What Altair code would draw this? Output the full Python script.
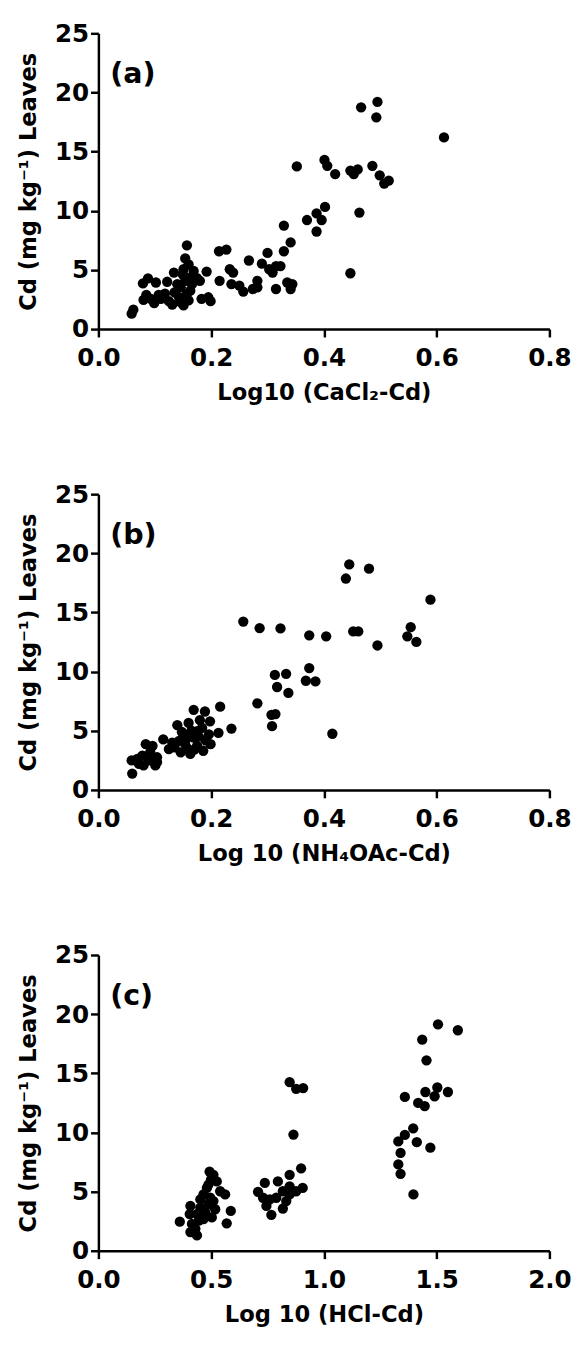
import altair as alt
import pandas as pd

# Panel (a): Log10 (CaCl2-Cd) vs Cd in leaves
xa = [0.059, 0.062, 0.079, 0.088, 0.102, 0.122, 0.134, 0.140, 0.080, 0.093, 0.099, 0.111,
      0.125, 0.131, 0.143, 0.151, 0.160, 0.157, 0.163, 0.157, 0.154, 0.160, 0.151, 0.169,
      0.163, 0.175, 0.154, 0.146, 0.166, 0.180, 0.192, 0.183, 0.199, 0.195, 0.214, 0.227,
      0.215, 0.233, 0.239, 0.236, 0.250, 0.257, 0.267, 0.274, 0.282, 0.282, 0.290, 0.300,
      0.303, 0.309, 0.315, 0.323, 0.315, 0.329, 0.329, 0.341, 0.335, 0.344, 0.341, 0.370,
      0.387, 0.387, 0.396, 0.402, 0.352, 0.401, 0.406, 0.420, 0.447, 0.453, 0.460, 0.466,
      0.495, 0.493, 0.486, 0.499, 0.507, 0.515, 0.613, 0.463, 0.447, 0.107, 0.118, 0.145,
      0.085, 0.135, 0.150]
ya = [1.30, 1.64, 3.86, 4.28, 3.94, 4.00, 4.78, 3.80, 2.47, 2.56, 2.19, 2.56,
      2.36, 2.08, 2.69, 2.00, 2.42, 2.97, 3.25, 7.08, 5.97, 5.47, 5.06, 4.92,
      4.36, 4.30, 4.08, 3.53, 3.80, 4.08, 4.86, 2.56, 2.36, 2.69, 6.58, 6.72,
      4.08, 5.06, 4.78, 3.80, 3.67, 3.17, 5.80, 3.39, 4.08, 3.53, 5.53, 6.44,
      5.06, 4.78, 5.33, 5.33, 3.39, 6.58, 8.75, 7.33, 3.94, 3.80, 3.39, 9.22,
      9.78, 8.25, 9.22, 10.33, 13.75, 14.30, 13.80, 13.10, 13.40, 13.10, 13.50, 18.75,
      19.20, 17.90, 13.80, 13.00, 12.30, 12.55, 16.20, 9.85, 4.72, 2.90, 3.00, 2.30,
      2.90, 3.10, 4.60]

# Panel (b): Log 10 (NH4OAc-Cd)
xb = [0.060, 0.059, 0.069, 0.078, 0.084, 0.096, 0.080, 0.090, 0.101, 0.104, 0.104, 0.115,
      0.125, 0.131, 0.140, 0.143, 0.146, 0.151, 0.154, 0.160, 0.163, 0.169, 0.169, 0.175,
      0.175, 0.184, 0.189, 0.186, 0.196, 0.198, 0.199, 0.213, 0.216, 0.236, 0.257, 0.286,
      0.323, 0.282, 0.307, 0.314, 0.308, 0.313, 0.333, 0.317, 0.337, 0.374, 0.404, 0.374,
      0.368, 0.385, 0.415, 0.445, 0.439, 0.480, 0.452, 0.461, 0.495, 0.589, 0.554, 0.548,
      0.564, 0.155, 0.165, 0.178, 0.158, 0.170, 0.135, 0.092, 0.072, 0.148, 0.190, 0.180]
yb = [1.38, 2.49, 2.62, 2.90, 3.87, 3.73, 2.07, 2.49, 2.07, 2.76, 2.35, 4.28,
      3.45, 4.00, 5.47, 4.14, 3.18, 4.70, 3.87, 5.66, 3.04, 6.77, 4.42, 4.97,
      3.73, 5.25, 6.63, 3.31, 4.70, 5.80, 3.87, 4.83, 7.04, 5.19, 14.23, 13.67,
      13.65, 7.32, 6.35, 6.41, 5.39, 9.72, 9.81, 8.70, 8.20, 13.07, 12.98, 10.30,
      9.23, 9.17, 4.75, 19.06, 17.87, 18.70, 13.40, 13.40, 12.21, 16.08, 13.76, 12.98,
      12.51, 4.30, 5.00, 4.50, 3.50, 3.40, 3.60, 3.20, 2.20, 4.90, 4.20, 5.90]

# Panel (c): Log 10 (HCl-Cd)
xc = [0.361, 0.408, 0.405, 0.415, 0.408, 0.437, 0.430, 0.445, 0.452, 0.452, 0.466, 0.481,
      0.493, 0.510, 0.525, 0.499, 0.488, 0.474, 0.503, 0.518, 0.540, 0.562, 0.569, 0.587,
      0.466, 0.496, 0.510, 0.488, 0.437,
      0.708, 0.738, 0.730, 0.745, 0.767, 0.760, 0.789, 0.796, 0.818, 0.833, 0.848, 0.848,
      0.848, 0.865, 0.899, 0.848, 0.877, 0.906, 0.877, 0.818, 0.908,
      1.506, 1.594, 1.436, 1.455, 1.359, 1.450, 1.503, 1.491, 1.550, 1.418, 1.447, 1.396,
      1.359, 1.330, 1.412, 1.472, 1.340, 1.330, 1.340, 1.397]
yc = [2.46, 3.79, 3.10, 2.27, 1.58, 1.30, 1.85, 2.55, 3.65, 4.34, 4.76, 5.31,
      6.69, 6.42, 5.86, 6.00, 3.93, 3.24, 2.82, 3.51, 5.03, 4.76, 2.32, 3.37,
      2.68, 4.48, 4.20, 5.59, 3.10,
      4.98, 5.73, 4.48, 3.79, 3.04, 4.34, 4.48, 5.86, 3.57, 4.20, 4.76, 6.42,
      5.45, 9.82, 6.97, 14.25, 13.69, 5.31, 5.03, 5.03, 13.75,
      19.14, 18.64, 17.84, 16.10, 13.00, 13.42, 13.80, 13.06, 13.42, 12.50, 12.23, 10.35,
      9.79, 9.24, 9.18, 8.71, 8.27, 7.30, 6.50, 4.76]

y_ticks = [0, 5, 10, 15, 20, 25]
x_ticks_ab = [0.0, 0.2, 0.4, 0.6, 0.8]
x_ticks_c = [0.0, 0.5, 1.0, 1.5, 2.0]

y_title = "Cd (mg kg\u207b\u00b9) Leaves"
titles_x = ["Log10 (CaCl\u2082-Cd)", "Log 10 (NH\u2084OAc-Cd)", "Log 10 (HCl-Cd)"]
labels = ["(a)", "(b)", "(c)"]

FONT = "DejaVu Sans"


def axis_common(**kw):
    return alt.Axis(
        grid=False,
        domainColor="black", domainWidth=2.5,
        tickColor="black", tickWidth=2.5, tickSize=8,
        labelFont=FONT, labelFontWeight="bold", labelFontSize=25, labelColor="black",
        titleFont=FONT, titleFontWeight="bold", titleFontSize=23, titleColor="black",
        labelOverlap=False,
        **kw,
    )


def panel(xs, ys, xmax, xticks, xtitle, label):
    df = pd.DataFrame({"x": xs, "y": ys})
    pts = alt.Chart(df).mark_circle(size=110, color="black", opacity=1).encode(
        x=alt.X("x:Q",
                scale=alt.Scale(domain=[0, xmax], nice=False, zero=True),
                axis=axis_common(title=xtitle, values=xticks, format=".1f",
                                 labelFlush=False, labelPadding=9, titlePadding=12)),
        y=alt.Y("y:Q",
                scale=alt.Scale(domain=[0, 25], nice=False),
                axis=axis_common(title=y_title, values=y_ticks, format="d",
                                 labelPadding=2, titlePadding=14)),
    )
    txt = alt.Chart(pd.DataFrame({"t": [label]})).mark_text(
        font=FONT, fontWeight="bold", fontSize=29, align="left", baseline="middle",
        color="black",
    ).encode(x=alt.value(12), y=alt.value(42), text="t:N")
    return (pts + txt).properties(width=459, height=301)


pa = panel(xa, ya, 0.8, x_ticks_ab, titles_x[0], labels[0])
pb = panel(xb, yb, 0.8, x_ticks_ab, titles_x[1], labels[1])
pc = panel(xc, yc, 2.0, x_ticks_c, titles_x[2], labels[2])

chart = alt.vconcat(pa, pb, pc, spacing=79).configure_view(stroke=None).properties(
    padding={"left": 10, "top": 2, "right": 0, "bottom": 0}
)

chart.save("out.html", embed_options={"renderer": "svg", "actions": False})
